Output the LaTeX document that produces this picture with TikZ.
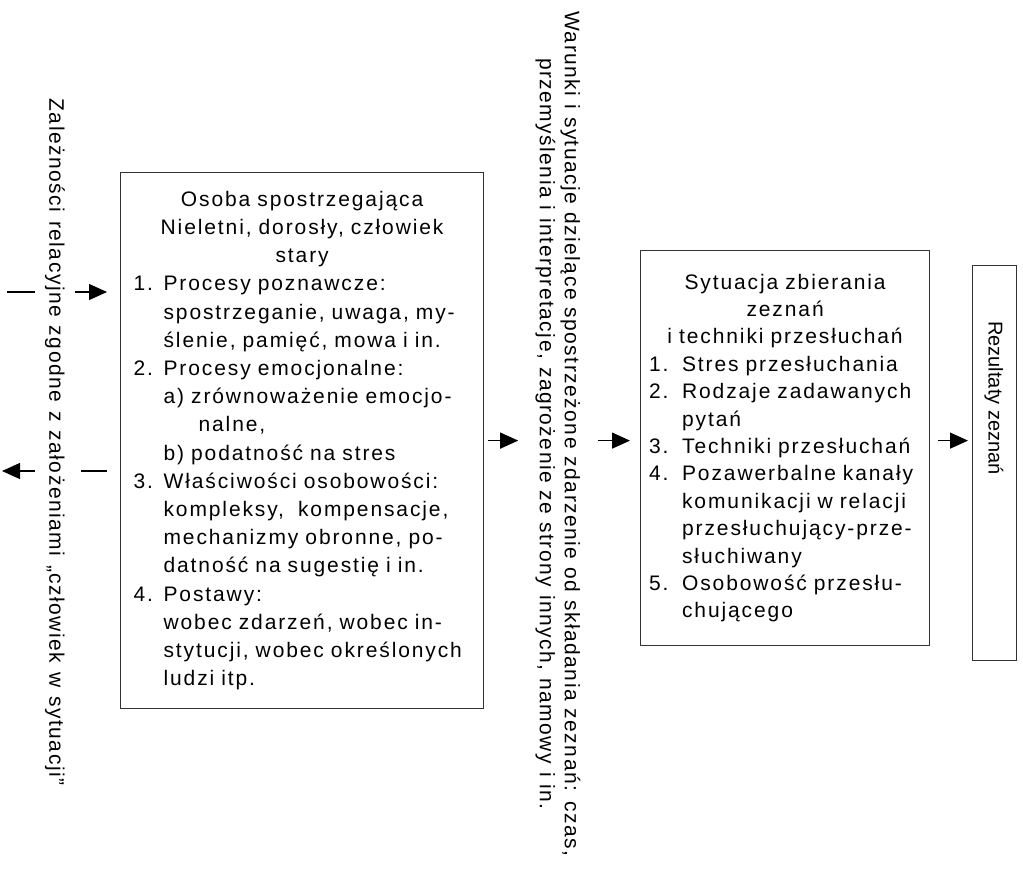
\documentclass[tikz,border=0pt]{standalone}
\usepackage{fontspec}
\setmainfont{Liberation Sans}[LetterSpace=9,WordSpace=2]
\newfontfamily\sidefont{Liberation Sans}[LetterSpace=7]
\newfontfamily\plainfont{Liberation Sans}
\usetikzlibrary{arrows.meta,positioning,calc}

% list helpers: number column and hanging indent
\newcommand{\num}[2][15pt]{\makebox[#1][l]{#2}}
\newcommand{\ind}[1][15pt]{\hspace*{#1}}
\newcommand{\widespace}[1]{\spaceskip=#1 plus 1pt\relax}

\begin{document}
\begin{tikzpicture}[x=0.5pt,y=-0.5pt,
  box/.style={draw=black!80, line width=0.6pt, rectangle, font=\fontsize{10.5}{14.1}\selectfont},
  listbox/.style={box, align=left, inner xsep=6.5pt, inner ysep=0pt},
  sidetext/.style={rotate=-90, align=center, font=\sidefont\fontsize{10.5}{12.5}\selectfont\widespace{4pt}},
  arr/.style={-{Triangle[length=9pt,width=8pt]}, line width=0.6pt},
  stub/.style={line width=0.6pt},
]
\useasboundingbox (0,0) rectangle (1023,879);

\node[listbox, minimum width=181.5pt, minimum height=268pt, text width=168.5pt, anchor=north west] (osoba) at (120,172) {%
{\centering Osoba spostrzegająca\\ Nieletni, dorosły, człowiek\\ stary\par}
\num{1.}Procesy poznawcze:\\
\ind spostrzeganie, uwaga, my-\\
\ind ślenie, pamięć, mowa i in.\\
\num{2.}Procesy emocjonalne:\\
\ind a) zrównoważenie emocjo-\\
\ind\hspace*{17.5pt}nalne,\\
\ind b) podatność na stres\\
\num{3.}Właściwości osobowości:\\
\ind kompleksy,\ \ kompensacje,\\
\ind mechanizmy obronne, po-\\
\ind datność na sugestię i in.\\
\num{4.}Postawy:\\
\ind wobec zdarzeń, wobec in-\\
\ind stytucji, wobec określonych\\
\ind ludzi itp.\par\vspace{-7pt}};

\node[listbox, minimum width=144.5pt, minimum height=197.5pt, text width=136pt, inner xsep=4.25pt, font=\fontsize{10.5}{13.7}\selectfont, anchor=north west] (sytu) at (640,250) {%
{\centering Sytuacja zbierania\\ zeznań\\ i techniki przesłuchań\par}
\num[16.5pt]{1.}Stres przesłuchania\\
\num[16.5pt]{2.}Rodzaje zadawanych\\
\ind[16.5pt]pytań\\
\num[16.5pt]{3.}Techniki przesłuchań\\
\num[16.5pt]{4.}Pozawerbalne kanały\\
\ind[16.5pt]komunikacji w relacji\\
\ind[16.5pt]przesłuchujący-prze-\\
\ind[16.5pt]słuchiwany\\
\num[16.5pt]{5.}Osobowość przesłu-\\
\ind[16.5pt]chującego};

\node[box, minimum width=22pt, minimum height=197.5pt, anchor=north west] (rezbox) at (972,265) {};
\node[sidetext, font=\plainfont\fontsize{10}{12}\selectfont] (rez) at (994,398) {Rezultaty zeznań};

\node[sidetext, inner sep=8.5pt] (warunki) at (558,434) {Warunki i sytuacje dzielące spostrzeżone zdarzenie od składania zeznań: czas,\\ przemyślenia i interpretacje, zagrożenie ze strony innych, namowy i in.};

\node[sidetext, inner sep=5pt, font=\sidefont\fontsize{10.5}{12}\selectfont\widespace{4.5pt}] (zal) at (55,442) {Zależności relacyjne zgodne z założeniami „człowiek w sytuacji”};

% wejscie i wyjscie po lewej
\coordinate (inL) at (7,292);
\coordinate (outL) at (2,471);
\draw[stub] (inL) -- (inL -| zal.south);
\draw[arr, shorten >=6.5pt] (zal.north |- inL) -- (osoba.west |- inL);
\draw[stub, shorten <=6.5pt, shorten >=3pt] (osoba.west |- outL) -- (zal.north |- outL);
\draw[arr] (zal.south |- outL) -- (outL);

% przeplyw w prawo
\draw[arr, shorten <=2pt] (osoba.east) -- (osoba.east -| warunki.south);
\draw[arr, shorten >=5pt] (warunki.north |- osoba.east) -- (sytu.west |- osoba.east);
\draw[arr, shorten <=4pt, shorten >=2pt] (sytu.east |- osoba.east) -- (rezbox.west |- osoba.east);
\end{tikzpicture}
\end{document}
